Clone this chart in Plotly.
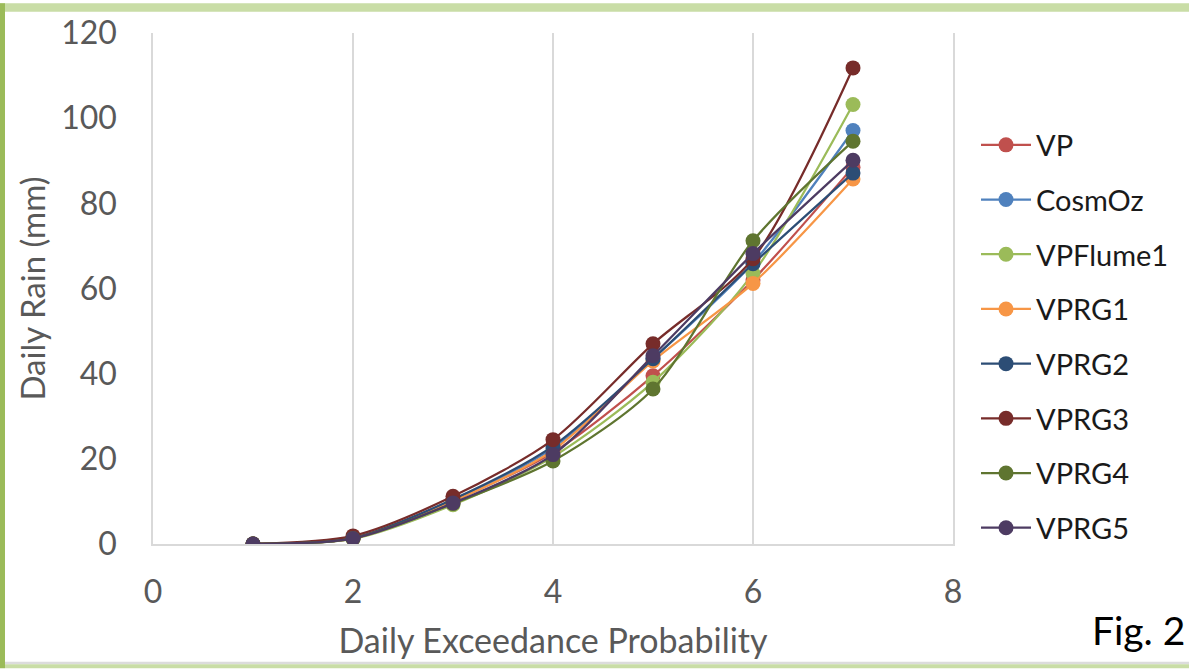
import plotly.graph_objects as go

# ---- data ----
x_vals = [1, 2, 3, 4, 5, 6, 7]
series_names = ["VP", "CosmOz", "VPFlume1", "VPRG1", "VPRG2", "VPRG3", "VPRG4", "VPRG5"]
vp = [0, 1.4, 10.2, 21.5, 39.5, 62.0, 88.5]
cosmoz = [0, 1.3, 10.3, 22.5, 43.5, 66.0, 97.1]
vpflume1 = [0, 1.2, 9.2, 20.5, 38.0, 63.5, 103.2]
vprg1 = [0, 1.3, 10.0, 22.0, 43.0, 61.2, 85.7]
vprg2 = [0, 1.4, 10.5, 23.0, 43.5, 65.8, 87.1]
vprg3 = [0, 1.9, 11.2, 24.5, 47.0, 67.0, 111.8]
vprg4 = [0, 1.3, 9.5, 19.5, 36.4, 71.2, 94.6]
vprg5 = [0, 1.3, 9.6, 21.0, 44.2, 68.2, 90.1]
series_values = [vp, cosmoz, vpflume1, vprg1, vprg2, vprg3, vprg4, vprg5]
colors = ["#C0504D", "#4F81BD", "#9BBB59", "#F79646", "#2C4D75", "#772C2A", "#5F7530", "#4D3B62"]
x_ticks = [0, 2, 4, 6, 8]
y_ticks = [0, 20, 40, 60, 80, 100, 120]

W, H = 1189, 669
L, R, T, B = 153, 953, 30, 544  # plot area pixels

def px(xp):
    return (xp - L) / (R - L)

def py(yp):
    return (B - yp) / (B - T)

FONT = "Lato, Open Sans, sans-serif"
GRID = "#d9d9d9"
TXT = "#595959"

fig = go.Figure()
for i, (name, vals, c) in enumerate(zip(series_names, series_values, colors)):
    fig.add_trace(go.Scatter(
        x=x_vals, y=vals, name=name, mode="lines+markers",
        line=dict(color=c, width=2.25, shape="spline", smoothing=0.8),
        marker=dict(color=c, size=15),
        legendgroup=name,
    ))

fig.update_layout(
    width=W, height=H,
    margin=dict(l=L, r=W - R, t=T, b=H - B, pad=0),
    paper_bgcolor="white", plot_bgcolor="white",
    font=dict(family=FONT, color=TXT),
    showlegend=True,
    legend=dict(
        x=px(976), y=py(117), xanchor="left", yanchor="top",
        font=dict(size=29, color="#1a1a1a", family=FONT),
        tracegroupgap=14, itemwidth=50,
        bgcolor="rgba(0,0,0,0)",
    ),
    xaxis=dict(
        range=[0, 8], tickvals=x_ticks, showgrid=True, gridcolor=GRID, gridwidth=1.5,
        zeroline=False, showline=True, linecolor=GRID, linewidth=1.5,
        ticks="outside", ticklen=19, tickcolor="rgba(0,0,0,0)",
        tickfont=dict(size=32, color=TXT, family=FONT),
        title=dict(text="Daily Exceedance Probability", font=dict(size=34, color=TXT, family=FONT), standoff=20),
    ),
    yaxis=dict(
        range=[0, 120], tickvals=y_ticks, showgrid=False,
        zeroline=False, showline=True, mirror=True, linecolor=GRID, linewidth=1.5,
        ticks="outside", ticklen=28, tickcolor="rgba(0,0,0,0)",
        tickfont=dict(size=32, color=TXT, family=FONT),
        title=dict(text="Daily Rain (mm)", font=dict(size=33, color=TXT, family=FONT), standoff=6),
    ),
)

# decorative frame bands
shapes = [
    dict(type="rect", xref="paper", yref="paper", x0=px(0), x1=px(W), y0=py(0), y1=py(8.5),
         fillcolor="#c9dda6", line=dict(width=0), layer="above"),
    dict(type="rect", xref="paper", yref="paper", x0=px(0), x1=px(5), y0=py(0), y1=py(H),
         fillcolor="#9bbb59", line=dict(width=0), layer="above"),
    dict(type="rect", xref="paper", yref="paper", x0=px(5), x1=px(W), y0=py(662.5), y1=py(665),
         fillcolor="#dcdcdc", line=dict(width=0), layer="above"),
    dict(type="rect", xref="paper", yref="paper", x0=px(5), x1=px(W), y0=py(665), y1=py(H),
         fillcolor="#c9dda6", line=dict(width=0), layer="above"),
]
fig.update_layout(shapes=shapes)

fig.add_annotation(
    text="Fig. 2", xref="paper", yref="paper", x=px(1187), y=py(631),
    xanchor="right", yanchor="middle", showarrow=False,
    font=dict(size=39, color="#000000", family=FONT),
)

fig.write_html(
    "out.html",
    config={"displayModeBar": False},
    post_script="document.body.style.margin='0px';document.body.style.overflow='hidden';",
)
